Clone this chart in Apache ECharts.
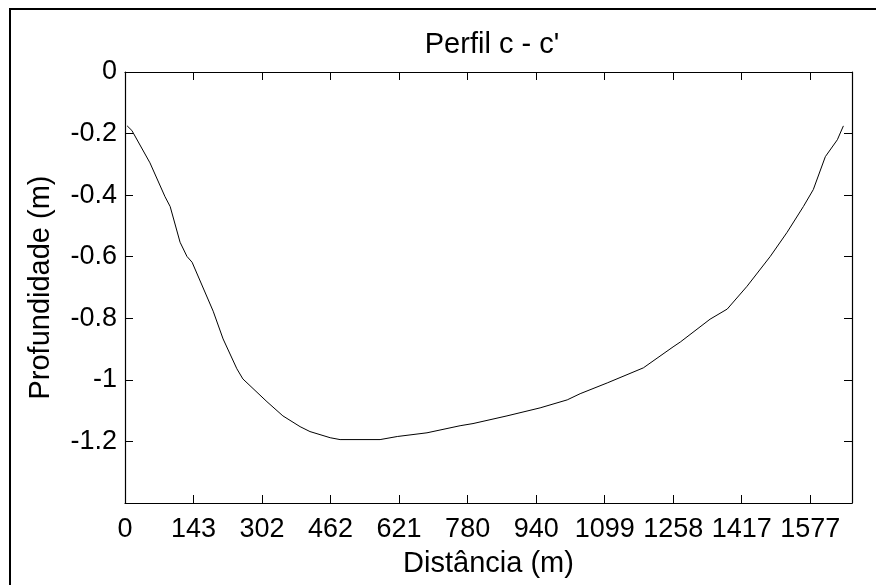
<!DOCTYPE html>
<html>
<head>
<meta charset="utf-8">
<script src="https://cdn.jsdelivr.net/npm/echarts@6/dist/echarts.min.js"></script>
<style>html,body{margin:0;padding:0;background:#fff}#c{width:876px;height:585px}</style>
</head>
<body>
<div id="c"></div>
<script>
// Data
var distance = [5, 16, 58, 93, 105, 128, 144, 156, 205, 228, 260, 274, 330, 367, 407, 430, 477, 500, 593, 633, 702, 779, 809, 888, 965, 1028, 1058, 1121, 1205, 1274, 1291, 1360, 1400, 1446, 1500, 1539, 1577, 1600, 1628, 1656, 1670];
var depth = [-0.175, -0.19, -0.295, -0.405, -0.437, -0.553, -0.599, -0.618, -0.777, -0.867, -0.964, -0.997, -1.071, -1.117, -1.152, -1.168, -1.188, -1.194, -1.194, -1.184, -1.172, -1.149, -1.142, -1.117, -1.091, -1.065, -1.045, -1.010, -0.961, -0.893, -0.877, -0.803, -0.770, -0.696, -0.599, -0.521, -0.437, -0.382, -0.275, -0.220, -0.175];
var xTickLabels = ['0', '143', '302', '462', '621', '780', '940', '1099', '1258', '1417', '1577'];
var yTickLabels = ['0', '-0.2', '-0.4', '-0.6', '-0.8', '-1', '-1.2', ''];
var xStep = 159.3;
var xMax = 1690;

var font = '"Liberation Sans", Arial, sans-serif';
var chart = echarts.init(document.getElementById('c'), null, {renderer: 'canvas'});

function xFmt(v) {
  var i = Math.round(v / xStep);
  if (Math.abs(v - i * xStep) < 1 && i < xTickLabels.length) return xTickLabels[i];
  return '';
}
function yFmt(v) {
  var i = Math.round(-v / 0.2);
  if (Math.abs(-v - i * 0.2) < 1e-6 && i < yTickLabels.length) return yTickLabels[i];
  return '';
}
var tickStyle = {show: true, inside: true, length: 8, lineStyle: {color: '#000', width: 1}};
var lineStyle = {show: true, onZero: false, lineStyle: {color: '#000', width: 1.2}};

chart.setOption({
  animation: false,
  backgroundColor: '#fff',
  title: {
    text: "Perfil c - c'",
    left: 487, top: 25, textAlign: 'center',
    textStyle: {fontFamily: font, fontSize: 29, fontWeight: 'normal', color: '#000'}
  },
  graphic: [{
    type: 'rect', silent: true,
    shape: {x: 10, y: 9, width: 900, height: 620},
    style: {fill: 'none', stroke: '#000', lineWidth: 2}
  }],
  grid: {left: 125, right: 24, top: 72, bottom: 82, containLabel: false},
  xAxis: [{
    type: 'value', min: 0, max: xMax, interval: xStep, position: 'bottom',
    axisLine: lineStyle, axisTick: tickStyle, splitLine: {show: false},
    axisLabel: {formatter: xFmt, fontFamily: font, fontSize: 27, color: '#000', margin: 13, showMaxLabel: false},
    name: 'Distância (m)', nameLocation: 'middle', nameGap: 46,
    nameTextStyle: {fontFamily: font, fontSize: 29, color: '#000'}
  }, {
    type: 'value', min: 0, max: xMax, interval: xStep, position: 'top',
    axisLine: lineStyle, axisTick: tickStyle, splitLine: {show: false}, axisLabel: {show: false}
  }],
  yAxis: [{
    type: 'value', min: -1.4, max: 0, interval: 0.2, position: 'left',
    axisLine: lineStyle, axisTick: tickStyle, splitLine: {show: false},
    axisLabel: {formatter: yFmt, fontFamily: font, fontSize: 27, color: '#000', margin: 8},
    name: 'Profundidade (m)', nameLocation: 'middle', nameGap: 70, nameRotate: 90,
    nameTextStyle: {fontFamily: font, fontSize: 29, color: '#000'}
  }, {
    type: 'value', min: -1.4, max: 0, interval: 0.2, position: 'right',
    axisLine: lineStyle, axisTick: tickStyle, splitLine: {show: false}, axisLabel: {show: false}
  }],
  series: [{
    type: 'line', xAxisIndex: 0, yAxisIndex: 0,
    data: distance.map(function (d, i) { return [d, depth[i]]; }),
    showSymbol: false, smooth: false,
    lineStyle: {color: '#000', width: 1}
  }]
});
</script>
</body>
</html>
